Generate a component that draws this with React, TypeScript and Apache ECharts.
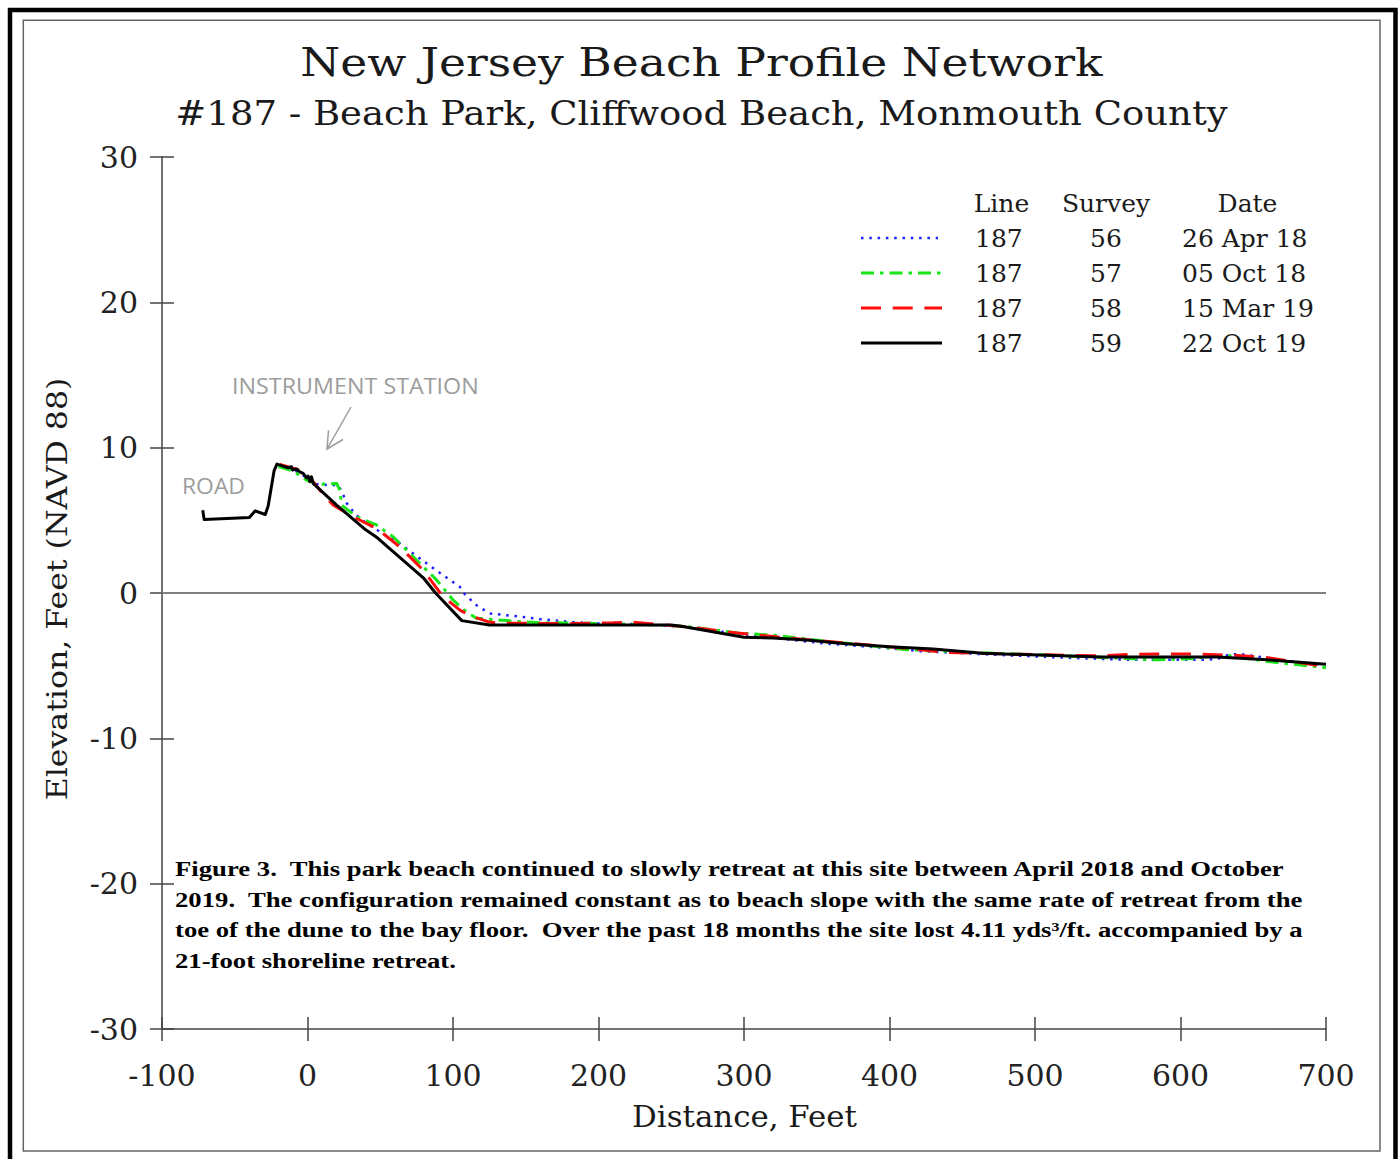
import React, { useEffect, useRef } from 'react';
import * as echarts from 'echarts';

const SERIF = 'DejaVu Serif';
const TIMES = 'Liberation Serif';
const SANS = 'Open Sans';

// Profile data: [distance ft, elevation ft]
const survey56: [number, number][] = [
  [-19, 8.75], [-10, 8.5], [-3, 8.1], [4, 7.5], [14, 7.43], [21, 7.43], [24, 6.9], [27, 6.17], [33, 5.4],
  [40.5, 4.8], [50, 4.2], [63.4, 3.4], [81.8, 2.04], [95, 1.1], [104.7, 0.43], [108, -0.07], [116, -0.83],
  [125, -1.4], [146, -1.63], [160, -1.8], [182.5, -2.0], [200, -2.1], [230, -2.15], [255, -2.3], [274, -2.55],
  [313, -3.0], [354, -3.46], [400, -3.8], [421, -4.0], [475, -4.26], [520, -4.45], [567, -4.6], [613, -4.6],
  [625, -4.55], [634, -4.22], [641, -4.2], [650, -4.33], [668, -4.6], [695, -4.9],
];
const survey57: [number, number][] = [
  [-20, 8.7], [-10, 8.4], [-0.7, 7.77], [7.3, 7.47], [20, 7.54], [22.2, 7.08], [23.4, 6.05], [33.7, 5.25],
  [47.4, 4.68], [58.8, 3.87], [72.6, 2.5], [88.7, 0.9], [100, -0.48], [108, -1.2], [116, -1.74], [146, -1.97],
  [160, -2.04], [200, -2.1], [240, -2.2], [260, -2.3], [297, -2.77], [320, -2.9], [360, -3.35], [411.6, -3.9],
  [475, -4.15], [540, -4.4], [583, -4.6], [610, -4.5], [630, -4.26], [660, -4.72], [700, -5.14],
];
const survey58: [number, number][] = [
  [-19, 8.85], [-5.3, 8.46], [3.8, 7.65], [10, 6.9], [17.6, 6.05], [31.3, 5.25], [47.4, 4.45], [63.4, 3.18],
  [79.5, 1.58], [93.2, -0.25], [105, -1.2], [113.8, -1.63], [125, -2.0], [132, -2.08], [180, -2.1], [210, -2.05],
  [222, -2.0], [240, -2.15], [258, -2.3], [297, -2.77], [320, -3.0], [360, -3.35], [400, -3.7], [441, -4.1],
  [490, -4.22], [544.5, -4.33], [567, -4.22], [590, -4.2], [613, -4.2], [640, -4.3], [660, -4.45], [700, -5.07],
];
const survey59: [number, number][] = [
  [-72, 5.7], [-71, 5.05], [-40, 5.2], [-36, 5.65], [-29, 5.4], [-27, 6.0], [-23, 8.4], [-21, 8.87],
  [-16.8, 8.73], [-13.3, 8.62], [-11, 8.69], [-10.3, 8.46], [-7.6, 8.53], [-5.3, 8.34], [-3, 8.23],
  [-0.7, 7.93], [0.4, 8.05], [1.6, 7.66], [2.7, 8.0], [3.9, 7.54], [20, 6.05], [40, 4.35], [48, 3.8],
  [80, 1.0], [88, 0.0], [106, -1.9], [125, -2.2], [250, -2.2], [258, -2.3], [300, -3.05], [320, -3.1],
  [345, -3.25], [366, -3.45], [400, -3.7], [430, -3.85], [464, -4.15], [545, -4.4], [625, -4.4], [660, -4.6],
  [700, -4.9],
];

const legendHeaders = ['Line', 'Survey', 'Date'];
const legendLineNos = ['187', '187', '187', '187'];
const legendSurveys = ['56', '57', '58', '59'];
const legendDates = ['26 Apr 18', '05 Oct 18', '15 Mar 19', '22 Oct 19'];

const titleText = 'New Jersey Beach Profile Network';
const subtitleText = '#187 - Beach Park, Cliffwood Beach, Monmouth County';
const xName = 'Distance, Feet';
const yName = 'Elevation, Feet (NAVD 88)';
const captionLines = [
  'Figure 3.  This park beach continued to slowly retreat at this site between April 2018 and October',
  '2019.  The configuration remained constant as to beach slope with the same rate of retreat from the',
  'toe of the dune to the bay floor.  Over the past 18 months the site lost 4.11 yds\u00B3/ft. accompanied by a',
  '21-foot shoreline retreat.',
];

const COLORS = { s56: '#1f1fff', s57: '#19e619', s58: '#ff0d0d', s59: '#000000' };
const DASH = { s56: [2.5, 5.8], s57: [13, 6, 3.5, 6], s58: [20, 11.7], s59: [] as number[] };

function textWidth(text: string, font: string): number {
  const ctx = document.createElement('canvas').getContext('2d');
  if (!ctx) return 1;
  ctx.font = font;
  return ctx.measureText(text).width || 1;
}
function fit(text: string, size: number, family: string, weight: string, target: number) {
  return target / textWidth(text, `${weight} ${size}px ${family}`);
}

function buildOption(): any {
  const axisLS = { color: '#444', width: 1.5 };
  const tickLS = { color: '#444', width: 1.5 };

  const seriesDef = [
    { key: 's56', data: survey56, width: 2.5 },
    { key: 's57', data: survey57, width: 3 },
    { key: 's58', data: survey58, width: 3 },
    { key: 's59', data: survey59, width: 3 },
  ] as const;

  const series: any[] = seriesDef.map((s, i) => ({
    type: 'line',
    data: s.data,
    symbol: 'none',
    showSymbol: false,
    silent: true,
    z: 3 + i,
    lineStyle: {
      color: (COLORS as any)[s.key],
      width: s.width,
      type: (DASH as any)[s.key].length ? (DASH as any)[s.key] : 'solid',
      cap: 'butt',
      join: 'round',
    },
    markLine: i === 0 ? {
      silent: true,
      symbol: ['none', 'none'],
      label: { show: false },
      lineStyle: { color: '#808080', width: 2, type: 'solid' },
      data: [{ yAxis: 0 }],
      z: 1,
    } : undefined,
  }));

  const graphic: any[] = [];
  // borders
  graphic.push({ type: 'rect', shape: { x: 10, y: 10, width: 1385.5, height: 1200 }, style: { fill: 'none', stroke: '#000', lineWidth: 4.5 }, silent: true });
  graphic.push({ type: 'rect', shape: { x: 23.3, y: 20.3, width: 1356.7, height: 1130.7 }, style: { fill: 'none', stroke: '#666', lineWidth: 1.5 }, silent: true });

  const txt = (text: string, x: number, y: number, size: number, family: string, opts: any = {}) => {
    const weight = opts.weight || 'normal';
    const el: any = {
      type: 'text', x, y, silent: true,
      rotation: opts.rotation || 0,
      style: {
        text, fontSize: size, fontFamily: family, fontWeight: weight,
        fill: opts.fill || '#1a1a1a', align: opts.align || 'left', verticalAlign: 'middle',
      },
    };
    if (opts.target) el.scaleX = fit(text, size, family, weight, opts.target);
    else if (opts.scaleX) el.scaleX = opts.scaleX;
    return el;
  };

  // titles
  graphic.push(txt(titleText, 701.5, 62, 40, SERIF, { align: 'center', target: 803 }));
  graphic.push(txt(subtitleText, 701.5, 113, 34, SERIF, { align: 'center', target: 1053 }));
  // axis names
  graphic.push(txt(xName, 744.5, 1117, 29, SERIF, { align: 'center', target: 225 }));
  graphic.push(txt(yName, 57, 589, 28, SERIF, { align: 'center', target: 423, rotation: Math.PI / 2 }));

  // legend table
  const hdrX = [1001.5, 1106, 1247.5];
  legendHeaders.forEach((h, i) => graphic.push(txt(h, hdrX[i], 203, 25, SERIF, { align: 'center' })));
  const rowY = [238, 273, 308, 343];
  const keys = ['s56', 's57', 's58', 's59'];
  rowY.forEach((y, i) => {
    const k = keys[i];
    graphic.push({
      type: 'line', silent: true,
      shape: { x1: 861, y1: y, x2: i === 0 ? 938 : 942, y2: y },
      style: { stroke: (COLORS as any)[k], lineWidth: i === 0 ? 2.5 : 3, lineDash: (DASH as any)[k].length ? (DASH as any)[k] : null, lineCap: 'butt' },
    });
    graphic.push(txt(legendLineNos[i], 975, y, 25, SERIF));
    graphic.push(txt(legendSurveys[i], 1106, y, 25, SERIF, { align: 'center' }));
    graphic.push(txt(legendDates[i], 1182, y, 25, SERIF));
  });

  // annotations
  graphic.push(txt('INSTRUMENT STATION', 232, 386, 22, SANS, { fill: '#9c9c9c', target: 247 }));
  graphic.push(txt('ROAD', 182, 486, 22, SANS, { fill: '#9c9c9c', target: 63 }));
  graphic.push({ type: 'polyline', silent: true, shape: { points: [[351, 407], [327, 449]] }, style: { stroke: '#9c9c9c', lineWidth: 1.5, fill: 'none' } });
  graphic.push({ type: 'polyline', silent: true, shape: { points: [[343, 439.5], [327, 449], [328.5, 430.5]] }, style: { stroke: '#9c9c9c', lineWidth: 1.5, fill: 'none' } });

  // caption (the reference caption is a horizontally widened Times bold)
  const capScale = fit(captionLines[0], 22, TIMES, 'bold', 1111);
  const capY = [868, 899, 929.5, 960];
  captionLines.forEach((line, i) => {
    graphic.push(txt(line, 175, capY[i], 22, TIMES, { weight: 'bold', fill: '#000', scaleX: capScale }));
  });

  const xCommon = { type: 'value', min: -100, max: 700, interval: 100, splitLine: { show: false } };
  const yCommon = { type: 'value', min: -30, max: 30, interval: 10, splitLine: { show: false } };

  return {
    animation: false,
    backgroundColor: '#ffffff',
    grid: { left: 162, top: 157, width: 1164, height: 872, containLabel: false, outerBoundsMode: 'none' },
    xAxis: [
      {
        ...xCommon,
        position: 'bottom',
        axisLine: { show: true, onZero: false, lineStyle: axisLS },
        axisTick: { show: true, inside: false, length: 12, lineStyle: tickLS },
        axisLabel: { show: true, fontFamily: SERIF, fontSize: 30, color: '#222', margin: 31 },
      },
      {
        ...xCommon,
        position: 'bottom',
        axisLine: { show: false, onZero: false },
        axisTick: { show: true, inside: true, length: 12, lineStyle: tickLS },
        axisLabel: { show: false },
      },
    ],
    yAxis: [
      {
        ...yCommon,
        position: 'left',
        axisLine: { show: true, onZero: false, lineStyle: axisLS },
        axisTick: { show: true, inside: false, length: 12, lineStyle: tickLS },
        axisLabel: { show: true, fontFamily: SERIF, fontSize: 30, color: '#222', margin: 24 },
      },
      {
        ...yCommon,
        position: 'left',
        axisLine: { show: false, onZero: false },
        axisTick: { show: true, inside: true, length: 12, lineStyle: tickLS },
        axisLabel: { show: false },
      },
    ],
    series,
    graphic,
  };
}

export default function App() {
  const ref = useRef<HTMLDivElement>(null);
  useEffect(() => {
    if (!ref.current) return;
    const chart = echarts.init(ref.current, null, { renderer: 'svg' });
    chart.setOption(buildOption());
    return () => chart.dispose();
  }, []);
  return (
    <div
      ref={ref}
      style={{ position: 'absolute', left: 0, top: 0, width: 1400, height: 1159, background: '#fff' }}
    />
  );
}
